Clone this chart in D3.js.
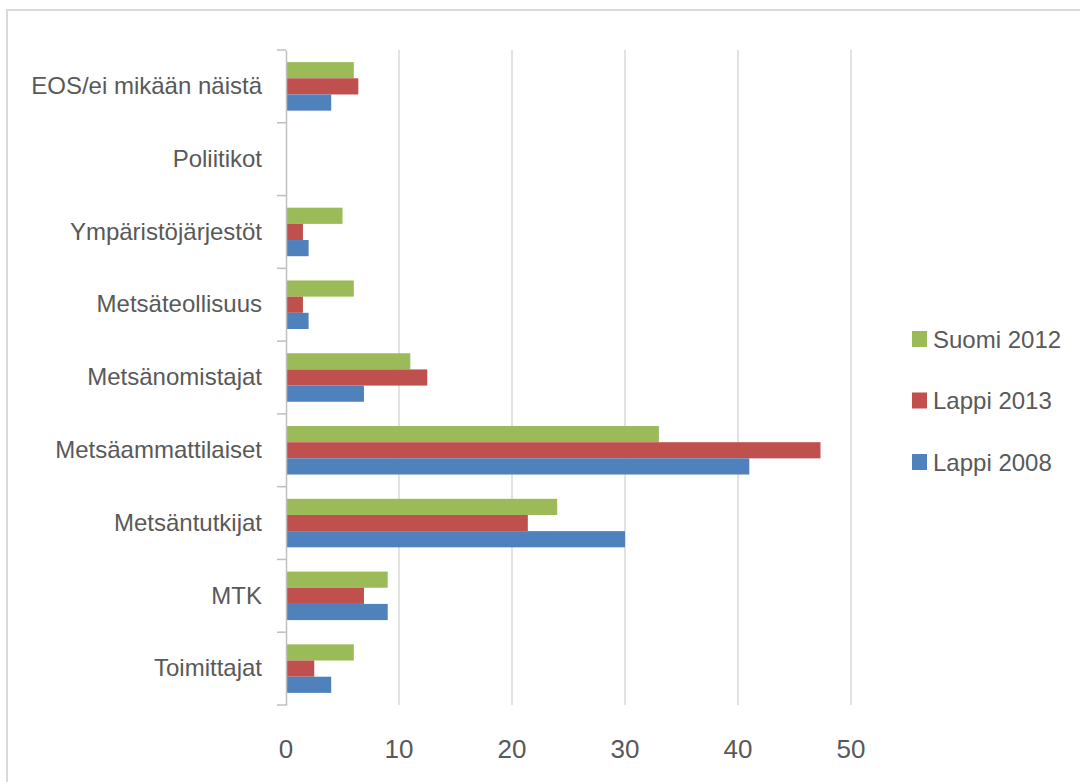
<!DOCTYPE html>
<html lang="fi">
<head>
  <meta charset="UTF-8">
  <title>Luotettavimmat tiedonlähteet</title>
  <script src="https://d3js.org/d3.v7.min.js"></script>
  <style>
    body { margin: 0; background: #fff; }
    svg text { font-family: "Liberation Sans", Arial, sans-serif; fill: #595959; }
  </style>
</head>
<body>
  <div id="chart"></div>
  <script>
    // Categories, top to bottom
    var categories = ["EOS/ei mikään näistä", "Poliitikot", "Ympäristöjärjestöt", "Metsäteollisuus",
                      "Metsänomistajat", "Metsäammattilaiset", "Metsäntutkijat", "MTK", "Toimittajat"];

    // Series values (same order as categories)
    var suomi2012 = [6, 0, 5, 6, 11, 33, 24, 9, 6];
    var lappi2013 = [6.4, 0, 1.5, 1.5, 12.5, 47.3, 21.4, 6.9, 2.5];
    var lappi2008 = [4, 0, 2, 2, 6.9, 41, 30, 9, 4];

    var seriesNames = ["Suomi 2012", "Lappi 2013", "Lappi 2008"];
    var seriesColors = ["#9BBB59", "#C0504D", "#4F81BD"];
    var xTicks = [0, 10, 20, 30, 40, 50];

    var seriesValues = [suomi2012, lappi2013, lappi2008];

    var W = 1080, H = 782;
    var plot = {left: 286, right: 851, top: 50, bottom: 705};

    var svg = d3.select("#chart").append("svg")
      .attr("width", W)
      .attr("height", H);

    // outer frame
    svg.append("rect")
      .attr("x", 7).attr("y", 10)
      .attr("width", 1100).attr("height", 800)
      .attr("fill", "none")
      .attr("stroke", "#d9d9d9")
      .attr("stroke-width", 2);

    var x = d3.scaleLinear().domain([0, 50]).range([plot.left, plot.right]);
    var y = d3.scaleBand().domain(categories).range([plot.top, plot.bottom]).padding(0);
    var inner = d3.scaleBand().domain(seriesNames)
      .range([y.bandwidth() * 1.5 / 9, y.bandwidth() * 7.5 / 9]).padding(0);

    // gridlines
    svg.append("g").selectAll("line")
      .data(xTicks.slice(1))
      .enter().append("line")
        .attr("x1", function(d) { return x(d); })
        .attr("x2", function(d) { return x(d); })
        .attr("y1", plot.top)
        .attr("y2", plot.bottom)
        .attr("stroke", "#d9d9d9")
        .attr("stroke-width", 1.5);

    // x tick labels
    svg.append("g").selectAll("text")
      .data(xTicks)
      .enter().append("text")
        .attr("x", function(d) { return x(d); })
        .attr("y", 758)
        .attr("text-anchor", "middle")
        .style("font-size", "26px")
        .text(function(d) { return d; });

    // bars
    var groups = svg.append("g").selectAll("g")
      .data(categories)
      .enter().append("g")
        .attr("transform", function(d) { return "translate(0," + y(d) + ")"; });

    groups.selectAll("rect")
      .data(function(d, i) {
        return seriesNames.map(function(s, j) { return {s: s, v: seriesValues[j][i], c: seriesColors[j]}; });
      })
      .enter().append("rect")
        .attr("x", x(0))
        .attr("y", function(d) { return inner(d.s); })
        .attr("width", function(d) { return x(d.v) - x(0); })
        .attr("height", inner.bandwidth())
        .attr("fill", function(d) { return d.c; });

    // category axis
    var yAxis = svg.append("g").attr("transform", "translate(" + plot.left + ",0)")
      .call(d3.axisLeft(y).tickSize(0).tickPadding(24).tickSizeOuter(0));
    yAxis.select(".domain").attr("stroke", "#bfbfbf").attr("stroke-width", 1.5);
    yAxis.selectAll("text").style("font-size", "24px").attr("fill", "#595959")
      .style("font-family", "'Liberation Sans', Arial, sans-serif");

    // category boundary ticks
    var bounds = categories.map(function(c) { return y(c); }).concat([plot.bottom]);
    svg.append("g").selectAll("line")
      .data(bounds)
      .enter().append("line")
        .attr("x1", plot.left - 9)
        .attr("x2", plot.left)
        .attr("y1", function(d) { return d; })
        .attr("y2", function(d) { return d; })
        .attr("stroke", "#bfbfbf")
        .attr("stroke-width", 1.5);

    // legend
    var legend = svg.append("g").selectAll("g")
      .data(seriesNames)
      .enter().append("g")
        .attr("transform", function(d, i) { return "translate(912," + (339 + i * 61.5) + ")"; });

    legend.append("rect")
      .attr("x", 0).attr("y", -8)
      .attr("width", 15).attr("height", 16)
      .attr("fill", function(d, i) { return seriesColors[i]; });

    legend.append("text")
      .attr("x", 21)
      .attr("y", 0)
      .attr("dy", "0.36em")
      .style("font-size", "24px")
      .text(function(d) { return d; });
  </script>
</body>
</html>
